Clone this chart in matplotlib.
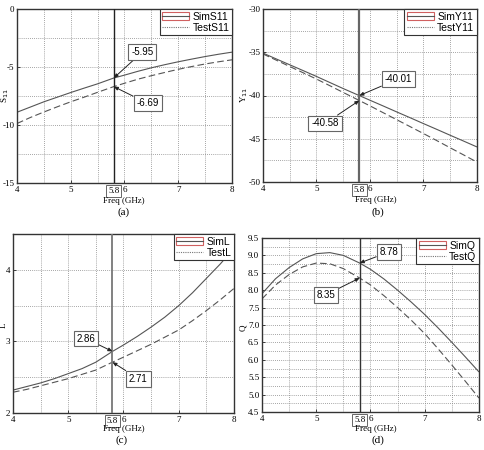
import matplotlib
matplotlib.use("Agg")
import matplotlib.pyplot as plt
from matplotlib.lines import Line2D
from matplotlib.patches import Rectangle
from matplotlib.ticker import MultipleLocator

freq = [4, 4.25, 4.5, 4.75, 5, 5.25, 5.5, 5.8, 6, 6.25, 6.5, 6.75, 7, 7.25, 7.5, 7.75, 8]

sim_s11 = [-8.9, -8.45, -8.0, -7.6, -7.2, -6.82, -6.45, -5.95, -5.7, -5.37, -5.07, -4.8, -4.55, -4.32, -4.1, -3.9, -3.72]
test_s11 = [-9.87, -9.35, -8.88, -8.43, -8.0, -7.6, -7.18, -6.69, -6.4, -6.05, -5.75, -5.47, -5.2, -4.96, -4.74, -4.55, -4.38]

sim_y11 = [-35.1, -35.78, -36.45, -37.12, -37.8, -38.5, -39.2, -40.01, -40.55, -41.22, -41.9, -42.57, -43.25, -43.92, -44.6, -45.27, -45.95]
test_y11 = [-35.2, -35.92, -36.65, -37.37, -38.1, -38.87, -39.65, -40.58, -41.2, -42.0, -42.8, -43.6, -44.4, -45.22, -46.05, -46.87, -47.7]

sim_l = [2.32, 2.37, 2.42, 2.48, 2.55, 2.62, 2.71, 2.86, 2.95, 3.07, 3.2, 3.34, 3.5, 3.68, 3.88, 4.08, 4.3]
test_l = [2.29, 2.33, 2.38, 2.43, 2.48, 2.54, 2.6, 2.71, 2.78, 2.87, 2.96, 3.06, 3.16, 3.29, 3.43, 3.58, 3.74]

sim_q = [7.9, 8.33, 8.65, 8.9, 9.05, 9.08, 9.0, 8.78, 8.6, 8.32, 8.0, 7.66, 7.3, 6.91, 6.5, 6.08, 5.65]
test_q = [7.75, 8.15, 8.45, 8.67, 8.78, 8.76, 8.62, 8.35, 8.15, 7.84, 7.5, 7.14, 6.75, 6.31, 5.85, 5.38, 4.9]

marker_f = 5.8
xticks = [4, 5, 6, 7, 8]

W, H = 485, 450
fig = plt.figure(figsize=(W / 100, H / 100), dpi=100)
SERIF = "Liberation Serif"
SANS = "Liberation Sans"


def make_ax(l, r, t, b):
    return fig.add_axes([l / W, 1 - b / H, (r - l) / W, (b - t) / H])


panels = [
    dict(box=(17, 232, 9, 183), sim=sim_s11, test=test_s11, ylim=(-15, 0), ymaj=5, ymin=2.5,
         names=("SimS11", "TestS11"), ylabel="S$_{11}$", ylab_xy=(5, 96),
         ann=[("-5.95", -5.95, (6.33, -3.72)), ("-6.69", -6.69, (6.43, -8.13))],
         cap="(a)", cap_xy=(124, 212), xl_xy=(124, 201), yfmt="{:g}", vl=(1.0, "#222222")),
    dict(box=(263, 477, 9, 182), sim=sim_y11, test=test_y11, ylim=(-50, -30), ymaj=5, ymin=2.5,
         names=("SimY11", "TestY11"), ylabel="Y$_{11}$", ylab_xy=(244, 95),
         ann=[("-40.01", -40.01, (6.53, -38.08)), ("-40.58", -40.58, (5.16, -43.23))],
         cap="(b)", cap_xy=(378, 212), xl_xy=(376, 200), yfmt="{:g}", vl=(1.6, "#666666")),
    dict(box=(13, 234, 234, 413), sim=sim_l, test=test_l, ylim=(2, 4.5), ymaj=1, ymin=0.5,
         names=("SimL", "TestL"), ylabel="L", ylab_xy=(4, 325),
         ann=[("2.86", 2.86, (5.32, 3.04)), ("2.71", 2.71, (6.27, 2.48))],
         cap="(c)", cap_xy=(122, 440), xl_xy=(124, 429), yfmt="{:g}", vl=(1.3, "#777777")),
    dict(box=(262, 479, 238, 412), sim=sim_q, test=test_q, ylim=(4.5, 9.5), ymaj=0.5, ymin=0.25,
         names=("SimQ", "TestQ"), ylabel="Q", ylab_xy=(243, 328),
         ann=[("8.78", 8.78, (6.34, 9.10)), ("8.35", 8.35, (5.18, 7.87))],
         cap="(d)", cap_xy=(378, 440), xl_xy=(376, 429), yfmt="{:.1f}", vl=(1.0, "#333333")),
]

for p in panels:
    ax = make_ax(*p["box"])
    ax.set_xlim(4, 8)
    ax.set_ylim(*p["ylim"])
    ax.xaxis.set_major_locator(MultipleLocator(1))
    ax.xaxis.set_minor_locator(MultipleLocator(0.5))
    ax.yaxis.set_major_locator(MultipleLocator(p["ymaj"]))
    ax.yaxis.set_minor_locator(MultipleLocator(p["ymin"]))
    ax.grid(True, which="both", linestyle=(0, (1, 1.5)), color="#888888", linewidth=0.6)
    ax.set_axisbelow(True)
    ax.tick_params(which="both", direction="in", length=2, width=0.5, pad=2,
                   labelsize=6.5, top=False, right=False)
    ax.tick_params(which="minor", length=0)
    ax.set_xticks(xticks)
    ax.set_xticklabels([str(v) for v in xticks], fontfamily=SERIF)
    yt = ax.get_yticks()
    ax.set_yticks(yt)
    ax.set_yticklabels([p["yfmt"].format(v) for v in yt], fontfamily=SERIF)
    ax.set_ylim(*p["ylim"])
    for s in ax.spines.values():
        s.set_linewidth(1.0)
        s.set_color("#333333")

    ax.plot(freq, p["sim"], color="#555555", linewidth=0.8, solid_capstyle="butt")
    ax.plot(freq, p["test"], color="#555555", linewidth=0.8, linestyle=(0, (6, 3)))
    ax.axvline(marker_f, color=p["vl"][1], linewidth=p["vl"][0], zorder=3)

    for txt, yv, (tx, ty) in p["ann"]:
        ax.annotate(txt, xy=(marker_f, yv), xytext=(tx, ty), textcoords="data",
                    ha="center", va="center", fontsize=7, fontfamily=SANS, zorder=5,
                    bbox=dict(boxstyle="square,pad=0.3", fc="white", ec="#666666", lw=0.8),
                    arrowprops=dict(arrowstyle="-|>,head_length=0.35,head_width=0.15",
                                    color="#222222", lw=0.7, shrinkA=0, shrinkB=0))

    ax.text(marker_f, p["ylim"][0] - (p["ylim"][1] - p["ylim"][0]) * 0.045, "5.8",
            ha="center", va="center", fontsize=6.5, fontfamily=SERIF, zorder=6, clip_on=False,
            bbox=dict(boxstyle="square,pad=0.2", fc="white", ec="#666666", lw=0.7))

    h1 = (Rectangle((0, 0), 1, 1, fc="none", ec="#d06060", lw=0.8),
          Line2D([], [], color="#555555", lw=0.8))
    h2 = Line2D([], [], color="#777777", lw=0.8, linestyle=(0, (1, 1)))
    leg = ax.legend([h1, h2], list(p["names"]), loc="upper right", borderaxespad=0,
                    prop=dict(family=SANS, size=7.5), handlelength=2.6, handletextpad=0.3,
                    borderpad=0.25, labelspacing=0.1, fancybox=False, framealpha=1,
                    edgecolor="#333333")
    leg.get_frame().set_linewidth(0.8)
    leg.set_zorder(7)

    fig.text(p["xl_xy"][0] / W, 1 - p["xl_xy"][1] / H, "Freq (GHz)", ha="center",
             va="center", fontsize=6.5, fontfamily=SERIF)
    fig.text(p["cap_xy"][0] / W, 1 - p["cap_xy"][1] / H, p["cap"], ha="center",
             va="center", fontsize=8, fontfamily=SERIF)
    fig.text(p["ylab_xy"][0] / W, 1 - p["ylab_xy"][1] / H, p["ylabel"], ha="center",
             va="center", fontsize=6.5, fontfamily=SERIF, rotation=90)

fig.savefig("out.png", dpi=100)
